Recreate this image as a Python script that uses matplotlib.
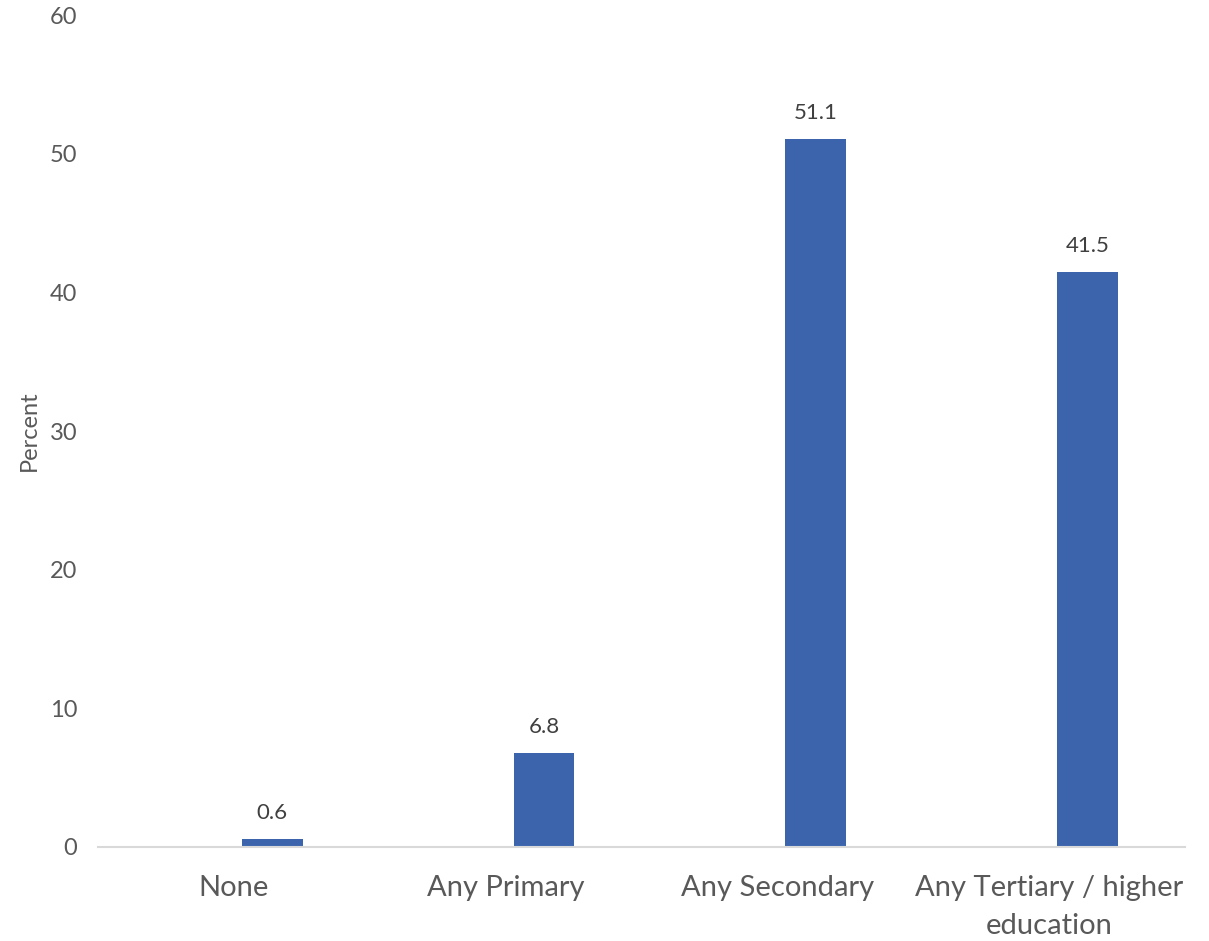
import matplotlib.pyplot as plt
import numpy as np

categories = ['None', 'Any Primary', 'Any Secondary', 'Any Tertiary / higher\neducation']
percent = [0.6, 6.8, 51.1, 41.5]
y_ticks = [0, 10, 20, 30, 40, 50, 60]

plt.rcParams['font.family'] = ['Lato', 'DejaVu Sans']

fig = plt.figure(figsize=(12.09, 9.41), dpi=100)
ax = fig.add_axes([0.081, 0.0999, 0.899, 0.884])

x = np.arange(len(categories))
# bars sit right of the category centre, like a cluster with an empty first slot
bars = ax.bar(x + 0.1416, percent, width=0.224, color='#3B64AD')

for rect, val in zip(bars, percent):
    ax.annotate(f'{val:.1f}', (rect.get_x() + rect.get_width() / 2, val),
                xytext=(0, 11), textcoords='offset points',
                ha='center', va='bottom', fontsize=16, color='#404040')

ax.set_xlim(-0.5, len(categories) - 0.5)
ax.set_ylim(0, 60)
ax.set_yticks(y_ticks)
ax.set_xticks(x)
ax.set_xticklabels(categories, fontsize=21, color='#595959', linespacing=1.6)
ax.tick_params(axis='y', labelsize=17, labelcolor='#595959', length=0, pad=15)
ax.tick_params(axis='x', length=0, pad=20)
ax.set_ylabel('Percent', fontsize=17, color='#595959')
ax.yaxis.set_label_coords(-0.053, 0.5)

for side in ['top', 'right', 'left']:
    ax.spines[side].set_visible(False)
ax.spines['bottom'].set_color('#D9D9D9')
ax.spines['bottom'].set_linewidth(1.5)

fig.savefig('out.png', dpi=100)
